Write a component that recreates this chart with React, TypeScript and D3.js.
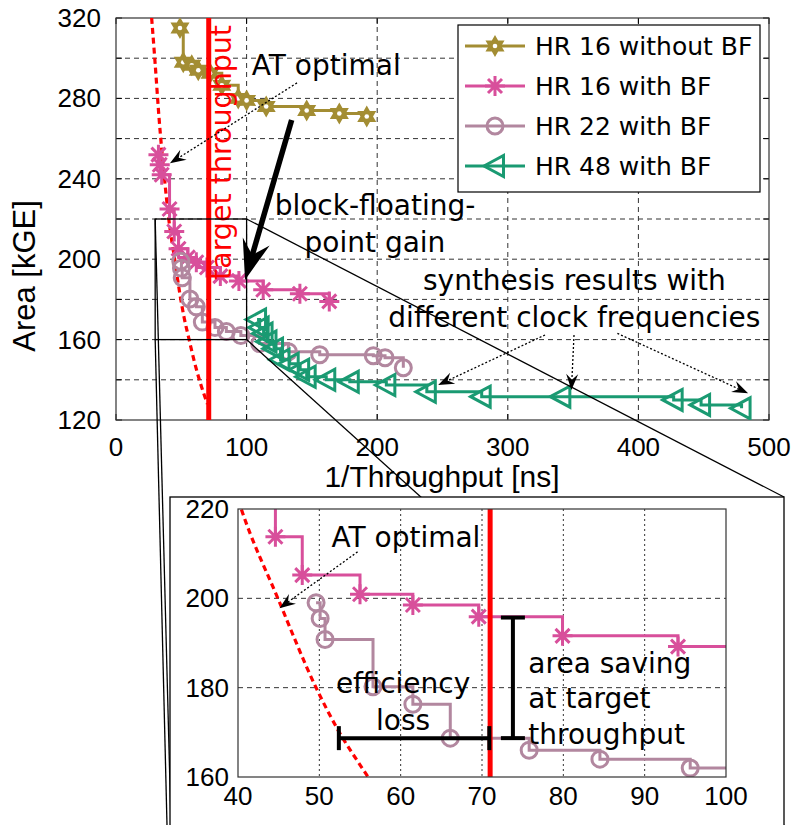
import * as d3 from "d3";
import React from "react";

// HR 16 without BF
const hr16NoBfT = [49, 51.5, 58, 63, 72, 81, 93.6, 100, 115, 146, 171, 192];
const hr16NoBfA = [315, 298, 296.5, 294, 292.5, 286.5, 280, 279, 276, 274, 272.5, 271];
// HR 16 with BF
const hr16BfT = [32.5, 33.5, 35, 41, 44.6, 47.9, 55, 61.5, 69.6, 79.9, 94.1, 112.7, 140.8, 163.3];
const hr16BfA = [252, 247, 242, 225, 213.8, 205.2, 200.9, 198.5, 195.9, 191.6, 189.2, 184.8, 182.8, 179];
// HR 22 with BF
const hr22BfT = [49.6, 50.1, 50.7, 56.6, 61.5, 66.1, 75.8, 84.5, 95.6, 110, 132, 156, 197, 206, 220];
const hr22BfA = [199, 195.5, 190.8, 180.2, 176.3, 168.7, 166, 164, 162, 158, 154, 152.5, 152, 151, 146];
// HR 48 with BF
const hr48BfT = [108, 110, 113, 116, 121, 126, 133, 141, 146, 161, 179, 207, 238, 280, 341, 427, 448, 479];
const hr48BfA = [170, 166, 163, 159, 155.5, 150, 148, 145, 141.5, 140, 139, 137.4, 134, 131.6, 131.6, 130, 127.5, 125.8];
// AT optimal curve
const atOptT = [27.3, 30, 33, 37, 40.4, 44.9, 49.6, 52.3, 55.7, 60, 65, 70];
const atOptA = [320, 297, 270, 241, 220, 200, 180, 170.5, 160.8, 149, 137.5, 128];
const targetT = 71;

const mainXTicks = [0, 100, 200, 300, 400, 500];
const mainYTicks = [120, 160, 200, 240, 280, 320];
const mainYGrid = [140, 160, 180, 200, 220, 240, 260, 280, 300];
const insXTicks = [40, 50, 60, 70, 80, 90, 100];
const insYTicks = [160, 180, 200, 220];

const series = [
  { name: "HR 16 without BF", t: hr16NoBfT, a: hr16NoBfA, color: "#a38d33", kind: "star" },
  { name: "HR 16 with BF", t: hr16BfT, a: hr16BfA, color: "#d84f9b", kind: "aster" },
  { name: "HR 22 with BF", t: hr22BfT, a: hr22BfA, color: "#b2879f", kind: "circle" },
  { name: "HR 48 with BF", t: hr48BfT, a: hr48BfA, color: "#1a9a72", kind: "tri" },
];

const mainX = d3.scaleLinear().domain([0, 500]).range([116, 769]);
const mainY = d3.scaleLinear().domain([120, 320]).range([420, 18]);
const insX = d3.scaleLinear().domain([40, 100]).range([238, 726]);
const insY = d3.scaleLinear().domain([160, 220]).range([777, 509]);

const tickFont = "Liberation Sans, Arial, sans-serif";
const noteFont = "DejaVu Sans, Verdana, sans-serif";

const starPts = d3.range(12).map((i) => {
  const r = i % 2 === 0 ? 11 : 6.3;
  const ang = -Math.PI / 2 + (i * Math.PI) / 6;
  return [r * Math.cos(ang), r * Math.sin(ang)];
});

const Marker = ({ kind, x, y, color }) => {
  const tr = `translate(${x},${y})`;
  if (kind === "star")
    return (
      <g transform={tr}>
        <polygon points={starPts.map((p) => p.join(",")).join(" ")} fill={color} />
        <circle r={2.3} fill="#fff" />
      </g>
    );
  if (kind === "aster")
    return (
      <path transform={tr} d="M-10,0H10M0,-10V10M-7,-7L7,7M-7,7L7,-7"
        stroke={color} strokeWidth={3} fill="none" />
    );
  if (kind === "circle")
    return <circle transform={tr} r={8} stroke={color} strokeWidth={3} fill="none" />;
  return <path transform={tr} d="M-11,0L8.5,-10.5L8.5,10.5Z" stroke={color} strokeWidth={3} fill="none" strokeLinejoin="miter" />;
};

// arrow: line from (x1,y1) to tip (x2,y2) with a notched head
const Arrow = ({ x1, y1, x2, y2, L = 16, W = 6, width = 1.3, dash = "2,2" }) => {
  const len = Math.hypot(x2 - x1, y2 - y1);
  const ux = (x2 - x1) / len, uy = (y2 - y1) / len;
  const nx = -uy, ny = ux;
  const bx = x2 - ux * L, by = y2 - uy * L;
  const kx = x2 - ux * L * 0.65, ky = y2 - uy * L * 0.65;
  return (
    <g>
      <line x1={x1} y1={y1} x2={kx} y2={ky} stroke="#000" strokeWidth={width} strokeDasharray={dash} />
      <path d={`M${x2},${y2}L${bx + nx * W},${by + ny * W}L${kx},${ky}L${bx - nx * W},${by - ny * W}Z`} fill="#000" />
    </g>
  );
};

const Plot = ({ xs, ys, clipId }) => {
  const y0 = ys.range()[1], y1 = ys.range()[0];
  const line = d3.line().curve(d3.curveStepAfter);
  const atLine = d3.line().curve(d3.curveMonotoneX);
  return (
    <g clipPath={`url(#${clipId})`}>
      <path d={atLine(atOptT.map((t, i) => [xs(t), ys(atOptA[i])]))} stroke="#ff0000" strokeWidth={3.2}
        strokeDasharray="6,4" fill="none" />
      {series.map((s) => (
        <g key={s.name}>
          <path d={line(s.t.map((t, i) => [xs(t), ys(s.a[i])]))} stroke={s.color} strokeWidth={3} fill="none" />
          {s.t.map((t, i) => (
            <Marker key={i} kind={s.kind} x={xs(t)} y={ys(s.a[i])} color={s.color} />
          ))}
        </g>
      ))}
      <line x1={xs(targetT)} x2={xs(targetT)} y1={y0} y2={y1} stroke="#ff0000" strokeWidth={5} />
    </g>
  );
};

const App = () => {
  const mx0 = 116, mx1 = 769, my0 = 18, my1 = 420;
  const ix0 = 238, ix1 = 726, iy0 = 509, iy1 = 777;
  // zoom rectangle in main plot
  const zx0 = mainX(30), zx1 = mainX(100), zy0 = mainY(220), zy1 = mainY(160);
  const frame = { x: 170, y: 497, w: 614, h: 340 };

  return (
    <div style={{ position: "absolute", left: 0, top: 0 }}>
      <svg width={795} height={825} style={{ display: "block", background: "#fff" }}>
        <defs>
          <clipPath id="clipMain"><rect x={mx0} y={my0} width={mx1 - mx0} height={my1 - my0} /></clipPath>
          <clipPath id="clipIns"><rect x={ix0} y={iy0} width={ix1 - ix0} height={iy1 - iy0} /></clipPath>
        </defs>
        <rect x={0} y={0} width={795} height={825} fill="#fff" />

        {/* main grid */}
        {mainYGrid.map((v) => (
          <line key={"gy" + v} x1={mx0} x2={mx1} y1={mainY(v)} y2={mainY(v)} stroke="#333" strokeWidth={1} strokeDasharray="5,4" />
        ))}
        {[100, 200, 300, 400].map((v) => (
          <line key={"gx" + v} x1={mainX(v)} x2={mainX(v)} y1={my0} y2={my1} stroke="#333" strokeWidth={1} strokeDasharray="5,4" />
        ))}
        {/* ticks */}
        {[...mainYGrid, 120, 320].map((v) => (
          <g key={"ty" + v}>
            <line x1={mx0} x2={mx0 + 6} y1={mainY(v)} y2={mainY(v)} stroke="#000" />
            <line x1={mx1 - 6} x2={mx1} y1={mainY(v)} y2={mainY(v)} stroke="#000" />
          </g>
        ))}
        {mainXTicks.map((v) => (
          <g key={"tx" + v}>
            <line x1={mainX(v)} x2={mainX(v)} y1={my1} y2={my1 - 6} stroke="#000" />
            <line x1={mainX(v)} x2={mainX(v)} y1={my0} y2={my0 + 6} stroke="#000" />
          </g>
        ))}
        <rect x={mx0} y={my0} width={mx1 - mx0} height={my1 - my0} fill="none" stroke="#333" strokeWidth={1.2} />

        {mainYTicks.map((v) => (
          <text key={"ly" + v} x={101} y={mainY(v) + 9} textAnchor="end" fontFamily={tickFont} fontSize={26}>{v}</text>
        ))}
        {mainXTicks.map((v) => (
          <text key={"lx" + v} x={mainX(v)} y={456} textAnchor="middle" fontFamily={tickFont} fontSize={26}>{v}</text>
        ))}
        <text x={442} y={487} textAnchor="middle" fontFamily={tickFont} fontSize={30}>1/Throughput [ns]</text>
        <text transform="translate(35,276) rotate(-90)" textAnchor="middle" fontFamily={tickFont} fontSize={31}>Area [kGE]</text>

        <Plot xs={mainX} ys={mainY} clipId="clipMain" />

        <text transform={`translate(231,280) rotate(-90)`} fill="#ff0000" fontFamily={noteFont} fontSize={28.5}>target throughput</text>

        {/* annotations main */}
        <text x={mainX(104)} y={mainY(291.6)} fontFamily={noteFont} fontSize={28}>AT optimal</text>
        <Arrow x1={mainX(138.6)} y1={mainY(287.7)} x2={mainX(41.3)} y2={mainY(247.7)} />
        <text x={mainX(198.3)} y={mainY(222)} textAnchor="middle" fontFamily={noteFont} fontSize={28}>block-floating-</text>
        <text x={mainX(198.3)} y={mainY(203.7)} textAnchor="middle" fontFamily={noteFont} fontSize={28}>point gain</text>
        <Arrow x1={mainX(134.5)} y1={mainY(269.3)} x2={mainX(98.8)} y2={mainY(189.7)} L={40} W={14} width={5.5} dash="none" />
        <text x={mainX(351)} y={mainY(184.7)} textAnchor="middle" fontFamily={noteFont} fontSize={28}>synthesis results with</text>
        <text x={mainX(351)} y={mainY(166.3)} textAnchor="middle" fontFamily={noteFont} fontSize={28}>different clock frequencies</text>
        <Arrow x1={mainX(328.5)} y1={mainY(162.3)} x2={mainX(246.7)} y2={mainY(137.4)} />
        <Arrow x1={mainX(350.7)} y1={mainY(162.3)} x2={mainX(348.7)} y2={mainY(134.9)} />
        <Arrow x1={mainX(383.9)} y1={mainY(163.1)} x2={mainX(484)} y2={mainY(133.3)} />

        {/* legend */}
        <rect x={458} y={25} width={302} height={167} fill="#fff" stroke="#000" strokeWidth={1.2} />
        {series.map((s, i) => {
          const ly = 46 + i * 40;
          return (
            <g key={"lg" + i}>
              <line x1={465} x2={525} y1={ly} y2={ly} stroke={s.color} strokeWidth={3} />
              <Marker kind={s.kind} x={495} y={ly} color={s.color} />
              <text x={535} y={ly + 9} fontFamily={noteFont} fontSize={25}>{s.name}</text>
            </g>
          );
        })}

        {/* zoom rectangle and connectors */}
        <rect x={zx0} y={zy0} width={zx1 - zx0} height={zy1 - zy0} fill="none" stroke="#000" strokeWidth={1.3} />
        <line x1={zx1} y1={zy0} x2={frame.x + frame.w} y2={frame.y} stroke="#000" strokeWidth={1.3} />
        <line x1={zx1} y1={zy1} x2={frame.x + frame.w} y2={825} stroke="#000" strokeWidth={1.3} />
        <line x1={zx0} y1={zy1} x2={167} y2={825} stroke="#000" strokeWidth={1.3} />
        <line x1={zx0} y1={zy0} x2={171} y2={825} stroke="#000" strokeWidth={1.3} />
        <rect x={frame.x} y={frame.y} width={frame.w} height={frame.h} fill="#fff" stroke="#000" strokeWidth={1.3} />

        {/* inset */}
        {[50, 60, 70, 80, 90].map((v) => (
          <line key={"igx" + v} x1={insX(v)} x2={insX(v)} y1={iy0} y2={iy1} stroke="#333" strokeWidth={1} strokeDasharray="2,3" />
        ))}
        {[180, 200].map((v) => (
          <line key={"igy" + v} x1={ix0} x2={ix1} y1={insY(v)} y2={insY(v)} stroke="#333" strokeWidth={1} strokeDasharray="5,4" />
        ))}
        <Plot xs={insX} ys={insY} clipId="clipIns" />
        <rect x={ix0} y={iy0} width={ix1 - ix0} height={iy1 - iy0} fill="none" stroke="#333" strokeWidth={1.2} />
        {insYTicks.map((v) => (
          <text key={"ily" + v} x={229} y={insY(v) + 9} textAnchor="end" fontFamily={tickFont} fontSize={26}>{v}</text>
        ))}
        {insXTicks.map((v) => (
          <text key={"ilx" + v} x={insX(v)} y={805} textAnchor="middle" fontFamily={tickFont} fontSize={26}>{v}</text>
        ))}

        <text x={insX(51.5)} y={insY(211.6)} fontFamily={noteFont} fontSize={28}>AT optimal</text>
        <Arrow x1={insX(54.7)} y1={insY(210.4)} x2={insX(45.1)} y2={insY(197.8)} />
        <text x={insX(60.3)} y={insY(178.7)} textAnchor="middle" fontFamily={noteFont} fontSize={28}>efficiency</text>
        <text x={insX(60.3)} y={insY(170.5)} textAnchor="middle" fontFamily={noteFont} fontSize={28}>loss</text>
        {/* efficiency loss and area saving bars */}
        <g stroke="#000" strokeWidth={4}>
          <line x1={insX(52.4)} x2={insX(70.9)} y1={insY(168.7)} y2={insY(168.7)} />
          <line x1={insX(52.4)} x2={insX(52.4)} y1={insY(168.7) - 12} y2={insY(168.7) + 12} />
          <line x1={insX(70.9)} x2={insX(70.9)} y1={insY(168.7) - 12} y2={insY(168.7) + 12} />
          <line x1={insX(73.8)} x2={insX(73.8)} y1={insY(195.7)} y2={insY(168.7)} />
          <line x1={insX(73.8) - 12} x2={insX(73.8) + 12} y1={insY(195.7)} y2={insY(195.7)} />
          <line x1={insX(73.8) - 12} x2={insX(73.8) + 12} y1={insY(168.7)} y2={insY(168.7)} />
        </g>
        <text x={insX(75.7)} y={insY(183.2)} fontFamily={noteFont} fontSize={28}>area saving</text>
        <text x={insX(75.7)} y={insY(175.4)} fontFamily={noteFont} fontSize={28}>at target</text>
        <text x={insX(75.7)} y={insY(167.5)} fontFamily={noteFont} fontSize={28}>throughput</text>
      </svg>
    </div>
  );
};

export default App;
